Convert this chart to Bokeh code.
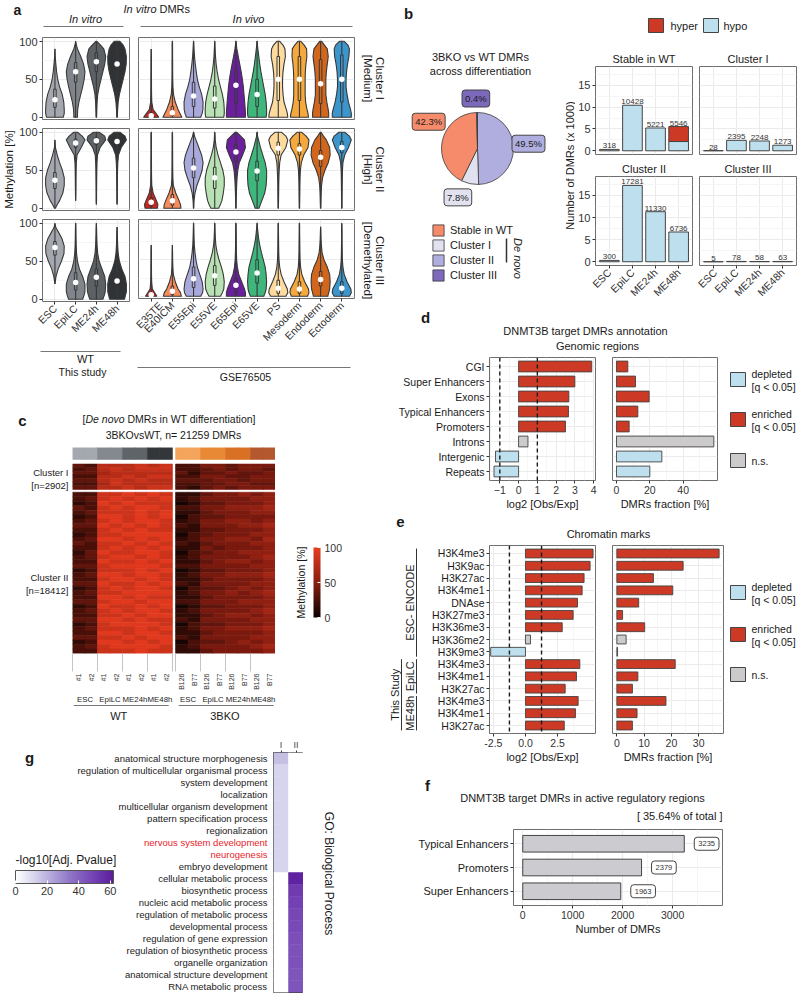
import math
from bokeh.plotting import figure
from bokeh.layouts import row, column
from bokeh.models import (Range1d, FixedTicker, Span, ColorBar, LinearColorMapper, Plot,
                          Legend, LegendItem, FactorRange, ColumnDataSource, Label)
from bokeh.models.glyphs import Text as TextGlyph
from bokeh.core.properties import value
from bokeh.embed import file_html
from bokeh.resources import INLINE

FONT = "Liberation Sans"
INK = "#1a1a1a"
AXC = "#333333"
BORDER = "#6e6e6e"
GRID = "#ebebeb"
GRID_MINOR = "#f5f5f5"
OUTL = "#444444"
VIOLIN_LINE = "#383838"
DEPL_C = "#BEDFEE"
ENR_C = "#CC3A26"
NS_C = "#CCCACA"
FA = {"frame_align": False} if "frame_align" in Plot.properties() else {}

# ============================ DATA ============================
# ---- panel a
VITRO = ["ESC", "EpiLC", "ME24h", "ME48h"]
VIVO = ["E35TE", "E40ICM", "E55Epi", "E55VE", "E65Epi", "E65VE", "PS",
        "Mesoderm", "Endoderm", "Ectoderm"]
VITRO_COLORS = ["#A4A8AE", "#80858B", "#5C6166", "#2F3336"]
VIVO_COLORS = ["#C9261F", "#F58A5A", "#A9AADB", "#B8E2B3", "#6B1F9E",
               "#3FB67C", "#FDDA9D", "#F5A83C", "#D3661D", "#3C95CB"]
CLUSTER_STRIPS = [("Cluster I", "[Medium]"), ("Cluster II", "[High]"),
                  ("Cluster III", "[Demethylated]")]
VIOLIN_LEVELS = [0, 5, 10, 20, 30, 40, 50, 60, 70, 80, 90, 95, 100]
VIOLIN_VITRO = [
    [[0.9, 1.0, 1.0, 0.95, 0.78, 0.5, 0.3, 0.18, 0.1, 0.03, 0, 0, 0],
     [0.2, 0.2, 0.22, 0.35, 0.55, 0.75, 0.92, 1.0, 0.85, 0.55, 0.2, 0.08, 0],
     [0.03, 0.04, 0.05, 0.08, 0.15, 0.3, 0.5, 0.7, 0.9, 1.0, 0.8, 0.45, 0.05],
     [0.03, 0.04, 0.06, 0.12, 0.25, 0.45, 0.65, 0.85, 0.98, 1.0, 0.85, 0.65, 0.3]],
    [[0.05, 0.25, 0.5, 0.85, 1.0, 1.0, 0.8, 0.5, 0.25, 0.05, 0, 0, 0],
     [0, 0, 0, 0.02, 0.03, 0.04, 0.05, 0.07, 0.15, 0.6, 1.0, 0.7, 0.2],
     [0, 0, 0.02, 0.02, 0.03, 0.04, 0.05, 0.07, 0.12, 0.4, 1.0, 0.9, 0.3],
     [0, 0, 0.02, 0.02, 0.03, 0.04, 0.05, 0.08, 0.15, 0.45, 1.0, 0.85, 0.3]],
    [[0, 0, 0, 0, 0.12, 0.35, 0.7, 0.97, 1.0, 0.75, 0.3, 0.08, 0],
     [0.75, 0.9, 1.0, 1.0, 0.75, 0.4, 0.2, 0.1, 0.06, 0.04, 0.03, 0.02, 0.01],
     [0.7, 0.85, 0.95, 1.0, 0.9, 0.6, 0.3, 0.15, 0.08, 0.05, 0.03, 0.02, 0],
     [0.8, 0.9, 1.0, 1.0, 0.85, 0.5, 0.25, 0.12, 0.07, 0.04, 0.02, 0, 0]],
]
VIOLIN_VIVO = [
    [[0.8, 0.5, 0.2, 0.06, 0.04, 0.03, 0.03, 0.02, 0.02, 0.015, 0, 0, 0],
     [1.0, 0.8, 0.6, 0.3, 0.12, 0.06, 0.04, 0.03, 0.03, 0.02, 0.02, 0.02, 0.01],
     [0.75, 0.9, 0.98, 1.0, 0.85, 0.6, 0.4, 0.28, 0.18, 0.1, 0.05, 0.03, 0.01],
     [0.95, 1.0, 1.0, 0.95, 0.8, 0.6, 0.4, 0.25, 0.15, 0.08, 0.04, 0.02, 0.01],
     [1.0, 1.0, 0.98, 0.92, 0.85, 0.78, 0.68, 0.55, 0.4, 0.25, 0.1, 0.05, 0.02],
     [0.95, 1.0, 1.0, 0.95, 0.85, 0.7, 0.55, 0.4, 0.28, 0.18, 0.08, 0.04, 0.02],
     [1.0, 0.95, 0.85, 0.6, 0.5, 0.45, 0.45, 0.5, 0.6, 0.75, 0.7, 0.5, 0.15],
     [0.95, 0.9, 0.8, 0.65, 0.6, 0.6, 0.6, 0.62, 0.68, 0.78, 0.75, 0.5, 0.15],
     [0.85, 0.85, 0.8, 0.65, 0.55, 0.55, 0.55, 0.6, 0.7, 0.8, 0.7, 0.4, 0.1],
     [1.0, 1.0, 0.92, 0.7, 0.55, 0.45, 0.45, 0.5, 0.6, 0.75, 0.8, 0.65, 0.25]],
    [[0.65, 0.7, 0.55, 0.2, 0.06, 0.04, 0.03, 0.03, 0.02, 0.02, 0.02, 0.02, 0.01],
     [0.9, 0.85, 0.7, 0.35, 0.1, 0.05, 0.04, 0.03, 0.03, 0.02, 0.02, 0.02, 0.01],
     [0.02, 0.03, 0.05, 0.15, 0.35, 0.65, 0.9, 1.0, 0.85, 0.55, 0.25, 0.1, 0.02],
     [0.4, 0.6, 0.75, 0.9, 1.0, 1.0, 0.85, 0.6, 0.35, 0.15, 0.05, 0.03, 0.01],
     [0.02, 0.02, 0.03, 0.05, 0.08, 0.12, 0.2, 0.35, 0.7, 1.0, 0.9, 0.5, 0.1],
     [0.2, 0.35, 0.5, 0.8, 0.95, 1.0, 1.0, 0.85, 0.6, 0.35, 0.15, 0.05, 0.02],
     [0.02, 0.02, 0.03, 0.04, 0.05, 0.07, 0.1, 0.15, 0.3, 0.8, 1.0, 0.8, 0.35],
     [0.02, 0.02, 0.03, 0.04, 0.05, 0.07, 0.1, 0.2, 0.45, 0.9, 1.0, 0.7, 0.25],
     [0.02, 0.03, 0.04, 0.06, 0.1, 0.2, 0.45, 0.8, 1.0, 0.95, 0.6, 0.3, 0.05],
     [0.02, 0.02, 0.02, 0.03, 0.04, 0.05, 0.07, 0.12, 0.3, 0.7, 1.0, 0.8, 0.3]],
    [[0.6, 0.35, 0.12, 0.05, 0.03, 0.03, 0.02, 0.02, 0, 0, 0, 0, 0],
     [0.95, 0.85, 0.6, 0.3, 0.1, 0.05, 0.03, 0.02, 0, 0, 0, 0, 0],
     [0.75, 0.95, 1.0, 0.9, 0.65, 0.4, 0.25, 0.15, 0.08, 0.05, 0.03, 0.02, 0.01],
     [0.6, 0.8, 0.95, 1.0, 0.9, 0.7, 0.45, 0.25, 0.12, 0.06, 0.03, 0.02, 0.01],
     [1.0, 1.0, 0.9, 0.6, 0.3, 0.15, 0.08, 0.05, 0.04, 0.03, 0.02, 0.02, 0.01],
     [0.7, 0.85, 0.95, 1.0, 0.95, 0.85, 0.65, 0.45, 0.28, 0.15, 0.07, 0.03, 0.01],
     [0.8, 1.0, 0.95, 0.6, 0.3, 0.15, 0.08, 0.05, 0.04, 0.03, 0.02, 0.02, 0.01],
     [0.85, 1.0, 0.95, 0.55, 0.25, 0.12, 0.07, 0.05, 0.04, 0.03, 0.02, 0.02, 0.01],
     [0.75, 0.85, 0.95, 1.0, 0.95, 0.7, 0.35, 0.15, 0.08, 0.04, 0.02, 0, 0],
     [0.8, 1.0, 0.95, 0.55, 0.25, 0.12, 0.06, 0.04, 0.03, 0.02, 0.02, 0.01, 0]],
]
# (median, q1, q3)
BOX_VITRO = [
    [(23, 13, 37), (60, 46, 72), (73, 60, 85), (70, 57, 83)],
    [(37, 26, 47), (86, 80, 91), (89, 84, 93), (88, 82, 92)],
    [(68, 58, 76), (22, 12, 35), (29, 17, 40), (24, 14, 36)],
]
BOX_VIVO = [
    [(2, 0, 6), (6, 2, 14), (28, 14, 46), (24, 12, 41), (42, 18, 63), (30, 14, 50),
     (50, 22, 80), (50, 22, 80), (44, 18, 76), (50, 20, 82)],
    [(8, 3, 14), (10, 4, 18), (53, 40, 66), (40, 26, 54), (74, 62, 84), (49, 36, 62),
     (79, 70, 87), (78, 70, 85), (67, 55, 76), (80, 73, 88)],
    [(2, 0, 5), (7, 2, 14), (24, 12, 40), (28, 15, 42), (15, 5, 24), (32, 18, 50),
     (11, 4, 22), (10, 4, 20), (23, 14, 34), (11, 4, 20)],
]

# ---- panel b
PIE_LABELS = ["Stable in WT", "Cluster I", "Cluster II", "Cluster III"]
PIE_PCT = [42.3, 7.8, 49.5, 0.4]
PIE_COLORS = ["#F58B6B", "#E1E1F0", "#AFAEDE", "#7C69BC"]
PIE_ORDER = [2, 1, 0, 3]          # clockwise from 12 o'clock
B_FACETS = ["Stable in WT", "Cluster I", "Cluster II", "Cluster III"]
B_STAGES = ["ESC", "EpiLC", "ME24h", "ME48h"]
B_HYPO = [[318, 10428, 5221, 2120], [28, 2395, 2248, 1273],
          [300, 17281, 11330, 6736], [5, 78, 58, 63]]
B_HYPER = [[0, 0, 0, 3426], [0, 0, 0, 0], [0, 0, 0, 0], [0, 0, 0, 0]]
HYPO_C = "#BEDFEE"
HYPER_C = "#CC3A26"

# ---- panel c
C_GROUPS = ["ESC", "EpiLC", "ME24h", "ME48h"]
C_COL_LABELS = ["#1", "#2"] * 4 + ["B126", "B77"] * 4
C_ANN_COLORS = ["#A4A8AF", "#848990", "#5F6469", "#33373A",
                "#F5A45B", "#E88A35", "#D87124", "#B4582F"]
C_CL1_N = 2902
C_CL2_N = 18412
C_CL1_ROWS = [
    "3277787822443444", "2378788822343443", "3367777731334334",
    "2277878822443344", "3378787733344344", "2268777722334433",
    "3377878821343444",
]
C_CL2_ROWS = [
    "2288989811344545", "2389898912444455", "1298988801334445",
    "3289899822445556", "2388898911344455", "1299898902334444",
    "2389899812445545", "3398989821444556", "2289898811334445",
    "1288999902344455", "2399898912445546", "3288989821344455",
    "2289898911434445", "1398899802344555", "2389989812444456",
    "2298898911345545", "3389999822444455", "1288898901334445",
    "2399899812445556", "2289989811344445", "3398898921444455",
    "1289899802334545", "2388999912445456", "2299898811344445",
    "3389989922444555", "1298898901334445", "2389899812444456",
    "2288989911345545", "3399898821444455", "1289999802334445",
    "2388898912445556", "2299899811344445", "3388989921444455",
    "1299898902334545", "2389999812444456", "2288898811344445",
]

# ---- panel d
D_REGIONS = ["CGI", "Super Enhancers", "Exons", "Typical Enhancers", "Promoters",
             "Introns", "Intergenic", "Repeats"]
D_LOG2 = [3.9, 3.0, 2.68, 2.66, 2.5, 0.5, -1.23, -1.31]
D_FRAC = [6.8, 11.4, 19.6, 12.8, 7.6, 58.4, 27.2, 20.0]
D_STATUS = ["enriched"] * 5 + ["n.s.", "depleted", "depleted"]

# ---- panel e
E_MARKS = ["H3K4me3", "H3K9ac", "H3K27ac", "H3K4me1", "DNAse", "H3K27me3", "H3K36me3",
           "H3K36me2", "H3K9me3", "H3K4me3", "H3K4me1", "H3K27ac", "H3K4me3",
           "H3K4me1", "H3K27ac"]
E_LOG2 = [5.26, 5.03, 4.56, 4.41, 4.05, 3.71, 2.86, 0.39, -2.71, 4.23, 3.97, 3.09,
          4.1, 3.89, 3.02]
E_FRAC = [37.5, 24.3, 13.4, 20.5, 8.0, 2.1, 10.2, 3.4, 0.25, 21.4, 7.7, 5.7,
          18.0, 7.4, 5.7]
E_STATUS = ["enriched"] * 7 + ["n.s.", "depleted"] + ["enriched"] * 6
E_GROUPS = [("ESC- ENCODE", 0, 8), ("EpiLC", 9, 11), ("ME48h", 12, 14)]
E_STUDY = ("This Study", 9, 14)

# ---- panel f
F_REGIONS = ["Typical Enhancers", "Promoters", "Super Enhancers"]
F_COUNTS = [3235, 2379, 1963]
F_SHARE = "35.64%"

# ---- panel g
GO_TERMS = ["anatomical structure morphogenesis",
            "regulation of multicellular organismal process",
            "system development", "localization",
            "multicellular organism development", "pattern specification process",
            "regionalization", "nervous system development", "neurogenesis",
            "embryo development", "cellular metabolic process", "biosynthetic process",
            "nucleic acid metabolic process", "regulation of metabolic process",
            "developmental process", "regulation of gene expression",
            "regulation of biosynthetic process", "organelle organization",
            "anatomical structure development", "RNA metabolic process"]
GO_HIGHLIGHT = ["nervous system development", "neurogenesis"]
GO_CLUSTERS = ["I", "II"]
GO_I = [17, 12, 12, 12, 12, 12, 12, 12, 12, 12, 0, 0, 0, 0, 0, 0, 0, 0, 0, 0]
GO_II = [0, 0, 0, 0, 0, 0, 0, 0, 0, 0, 60, 52, 50, 48, 47, 46, 45, 45, 44, 44]

# ============================ HELPERS ============================
DECO_H = {}


def hex2rgb(h):
    h = h.lstrip("#")
    return tuple(int(h[i:i + 2], 16) for i in (0, 2, 4))


def ramp(stops, n=256):
    out = []
    for i in range(n):
        t = i / (n - 1)
        for (p0, c0), (p1, c1) in zip(stops[:-1], stops[1:]):
            if p0 <= t <= p1:
                f = 0 if p1 == p0 else (t - p0) / (p1 - p0)
                a, b = hex2rgb(c0), hex2rgb(c1)
                out.append("#%02x%02x%02x" % tuple(int(round(a[j] + (b[j] - a[j]) * f)) for j in range(3)))
                break
    return out


def deco(w, h):
    p = figure(width=w, height=h, x_range=Range1d(0, w), y_range=Range1d(0, h),
               x_axis_type=None, y_axis_type=None, toolbar_location=None,
               output_backend="svg", min_border=0, title=None, **FA)
    p.outline_line_color = None
    p.background_fill_color = "white"
    p.border_fill_color = "white"
    DECO_H[p.id] = h
    return p


def dtext(p, x, y, s, size=11, align="center", baseline="middle", angle=0.0,
          style="normal", color=INK):
    h = DECO_H[p.id]
    p.text(x=[x], y=[h - y], text=[s], text_font=value(FONT), text_font_size=f"{size}px",
           text_align=align, text_baseline=baseline, angle=angle,
           text_font_style=style, text_color=color)


def dline(p, x0, y0, x1, y1, color="#777777", width=1.0):
    h = DECO_H[p.id]
    p.line([x0, x1], [h - y0, h - y1], line_color=color, line_width=width)


def dbox(p, x0, y0, x1, y1, fill):
    h = DECO_H[p.id]
    p.quad(left=[x0], right=[x1], top=[h - y0], bottom=[h - y1], fill_color=fill,
           line_color=OUTL, line_width=1)


def boxed_kw(fill, line="#444444", pad=3, radius=3):
    props = TextGlyph.properties()
    kw = {}
    if "background_fill_color" in props:
        kw["background_fill_color"] = fill
    if "border_line_color" in props:
        kw["border_line_color"] = line
        kw["border_line_width"] = 1
    if "padding" in props:
        kw["padding"] = pad
    if "border_radius" in props:
        kw["border_radius"] = radius
    return kw


def dfig(w, h, xr, yr, bl, br, bt, bb, xloc="below", yloc="left", title=None, tick="10.5px"):
    p = figure(width=w, height=h, x_range=xr, y_range=yr, toolbar_location=None,
               output_backend="svg", min_border_left=bl, min_border_right=br,
               min_border_top=bt, min_border_bottom=bb, x_axis_location=xloc,
               y_axis_location=yloc, title=title, **FA)
    p.background_fill_color = "white"
    p.border_fill_color = "white"
    p.outline_line_color = BORDER
    p.outline_line_width = 1
    for ax in p.axis:
        ax.axis_line_color = None
        ax.major_tick_line_color = AXC
        ax.major_tick_out = 3
        ax.major_tick_in = 0
        ax.minor_tick_line_color = None
        ax.major_label_text_font = FONT
        ax.major_label_text_font_size = tick
        ax.major_label_text_color = AXC
        ax.major_label_standoff = 2
        ax.axis_label_text_font = FONT
        ax.axis_label_text_font_size = "11px"
        ax.axis_label_text_font_style = "normal"
        ax.axis_label_text_color = INK
        ax.axis_label_standoff = 1
    for g in p.grid:
        g.grid_line_color = GRID
        g.grid_line_width = 1
    if title is not None:
        p.title.align = "center"
        p.title.text_font = FONT
        p.title.text_font_size = "11px"
        p.title.text_font_style = "normal"
        p.title.text_color = INK
        p.title.standoff = 3
    return p


# ============================ PANEL A ============================
A_FRAME_H = 82
A_ROWS = [(0, 4), (5, 4), (5, 49)]
HW = 0.45


def violin_fig(names, profs, boxes, colors, w, bl, br, bt, bb, show_y, show_x):
    n = len(names)
    p = dfig(w, bt + A_FRAME_H + bb, Range1d(0.4, n + 0.6), Range1d(-3, 105), bl, br, bt, bb,
             xloc="below" if show_x else None, yloc="left" if show_y else None, tick="11px")
    p.ygrid.ticker = FixedTicker(ticks=[0, 50, 100], minor_ticks=[25, 75])
    p.ygrid.minor_grid_line_color = GRID_MINOR
    p.xgrid.ticker = FixedTicker(ticks=list(range(1, n + 1)))
    if show_y:
        p.yaxis.ticker = FixedTicker(ticks=[0, 50, 100])
    if show_x:
        p.xaxis.ticker = FixedTicker(ticks=list(range(1, n + 1)))
        p.xaxis.major_label_overrides = {i + 1: nm for i, nm in enumerate(names)}
        p.xaxis.major_label_orientation = math.pi / 4
        p.xaxis.major_label_text_font_size = "10.5px"
    xs, ys, lo, hi = [], [], [], []
    for i, prof in enumerate(profs):
        c = i + 1
        nz = [k for k, v in enumerate(prof) if v > 0]
        s = max(nz[0] - 1, 0)
        e = min(nz[-1] + 1, len(prof) - 1)
        lv = VIOLIN_LEVELS[s:e + 1]
        wv = prof[s:e + 1]
        xs.append([c - HW * v for v in wv] + [c + HW * v for v in wv][::-1])
        ys.append(lv + lv[::-1])
        lo.append(lv[0])
        hi.append(lv[-1])
    p.patches(xs, ys, fill_color=colors, line_color=VIOLIN_LINE, line_width=1.1)
    cx = list(range(1, n + 1))
    p.segment(x0=cx, y0=lo, x1=cx, y1=hi, line_color=VIOLIN_LINE, line_width=1.1)
    p.quad(left=[c - 0.06 for c in cx], right=[c + 0.06 for c in cx],
           bottom=[b[1] for b in boxes], top=[b[2] for b in boxes],
           fill_color=colors, line_color=VIOLIN_LINE, line_width=1)
    p.scatter(cx, [b[0] for b in boxes], size=5.5, fill_color="white", line_color=None)
    return p


hA = deco(388, 37)
dtext(hA, 17, 9, "a", 14, style="bold")
dtext(hA, 156, 8, "In vitro", 11, align="right", style="italic")
dtext(hA, 159, 8, "DMRs", 11, align="left")
dtext(hA, 85, 18, "In vitro", 11, style="italic")
dtext(hA, 248, 18, "In vivo", 11, style="italic")
dline(hA, 43, 26, 123, 26)
dline(hA, 140, 26, 352, 26)

col1 = [violin_fig(VITRO, VIOLIN_VITRO[r], BOX_VITRO[r], VITRO_COLORS, 117, 24, 4, bt, bb,
                   True, r == 2) for r, (bt, bb) in enumerate(A_ROWS)]
col2 = [violin_fig(VIVO, VIOLIN_VIVO[r], BOX_VIVO[r], VIVO_COLORS, 223, 5, 2, bt, bb,
                   False, r == 2) for r, (bt, bb) in enumerate(A_ROWS)]
row_h = [bt + A_FRAME_H + bb for bt, bb in A_ROWS]
grid_h = sum(row_h)
centers = []
acc = 0
for (bt, bb), hh in zip(A_ROWS, row_h):
    centers.append(acc + bt + A_FRAME_H / 2)
    acc += hh
ylabA = deco(16, grid_h)
dtext(ylabA, 8, centers[1], "Methylation [%]", 11.5, angle=math.pi / 2)
stripA = deco(32, grid_h)
for (l1, l2), cyy in zip(CLUSTER_STRIPS, centers):
    dtext(stripA, 23, cyy, l1, 11.5, angle=-math.pi / 2)
    dtext(stripA, 11, cyy, l2, 11.5, angle=-math.pi / 2)
fA = deco(388, 385 - 37 - grid_h)
dline(fA, 40, 1, 120, 1)
dtext(fA, 85, 8, "WT", 11)
dtext(fA, 82, 21, "This study", 10.5)
dline(fA, 137, 17, 350, 17)
dtext(fA, 245, 26, "GSE76505", 10.5)
blockA = column(hA, row(ylabA, column(*col1), column(*col2), stripA), fA)

# ============================ PANEL C ============================
C_FRAME_W, C_FRAME_H = 203, 224
ANN_PX, ANN_GAP_PX, CL_GAP_PX = 13, 5, 3
GAP = 0.25
u = (C_CL1_N + C_CL2_N) / (C_FRAME_H - ANN_PX - ANN_GAP_PX - CL_GAP_PX)
col_x = [i + 0.5 + (GAP if i >= 8 else 0) for i in range(16)]
XMAX = 16 + GAP
heat_pal = ramp([(0, "#0b0302"), (0.5, "#861d10"), (1.0, "#e93c20")])
heat_map = LinearColorMapper(palette=heat_pal, low=0, high=100)

cx, cy, chh, cv = [], [], [], []
h2 = C_CL2_N / len(C_CL2_ROWS)
for j, r in enumerate(C_CL2_ROWS):
    for i, d in enumerate(r):
        cx.append(col_x[i]); cy.append(C_CL2_N - (j + 0.5) * h2); chh.append(h2)
        cv.append(int(d) * 10 + 5)
base1 = C_CL2_N + CL_GAP_PX * u
h1 = C_CL1_N / len(C_CL1_ROWS)
for j, r in enumerate(C_CL1_ROWS):
    for i, d in enumerate(r):
        cx.append(col_x[i]); cy.append(base1 + C_CL1_N - (j + 0.5) * h1); chh.append(h1)
        cv.append(int(d) * 10 + 5)
ann_base = base1 + C_CL1_N + ANN_GAP_PX * u

heat = dfig(C_FRAME_W, C_FRAME_H + 21, Range1d(0, XMAX), Range1d(0, C_FRAME_H * u),
            0, 0, 0, 21, xloc="below", yloc=None)
heat.outline_line_color = None
heat.grid.visible = False
src = ColumnDataSource(dict(x=cx, y=cy, h=chh, v=cv))
heat.rect(x="x", y="y", width=1.0, height="h", source=src,
          fill_color={"field": "v", "transform": heat_map},
          line_color={"field": "v", "transform": heat_map}, line_width=0.6)
ann_cols = [C_ANN_COLORS[i // 2] for i in range(16)]
heat.rect(x=col_x, y=[ann_base + ANN_PX * u / 2] * 16, width=1.0, height=ANN_PX * u,
          fill_color=ann_cols, line_color=ann_cols, line_width=0.6)
bounds = [0, 2, 4, 6, 8] + [8 + GAP + k for k in (0, 2, 4, 6, 8)]
heat.xaxis.ticker = FixedTicker(ticks=col_x, minor_ticks=bounds)
heat.xaxis.major_label_overrides = {x: lab for x, lab in zip(col_x, C_COL_LABELS)}
heat.xaxis.major_label_orientation = math.pi / 2
heat.xaxis.major_label_text_font_size = "7px"
heat.xaxis.major_tick_out = 0
heat.xaxis.major_label_standoff = 2
heat.xaxis.minor_tick_line_color = "#c4c4c4"
heat.xaxis.minor_tick_out = 18
heat.xaxis.minor_tick_in = 0

pxu = C_FRAME_W / XMAX
HX0 = 72
hC = deco(388, 62)
dtext(hC, 22, 35, "c", 15, style="bold")
dtext(hC, 82, 33, "[", 10.5, align="left")
dtext(hC, 85, 33, "De novo", 10.5, align="left", style="italic")
dtext(hC, 127, 33, "DMRs in WT differentiation]", 10.5, align="left")
dtext(hC, 173, 49, "3BKOvsWT, n= %d DMRs" % 21259, 10.5)


def heat_py(yv):
    return C_FRAME_H - yv / u


leftC = deco(HX0, C_FRAME_H + 21)
c1_mid = heat_py(base1 + C_CL1_N / 2)
c2_mid = heat_py(C_CL2_N / 2)
dtext(leftC, 68, c1_mid - 6.5, "Cluster I", 9.5, align="right")
dtext(leftC, 68, c1_mid + 6.5, "[n=%d]" % C_CL1_N, 9.5, align="right")
dtext(leftC, 68, c2_mid - 6.5, "Cluster II", 9.5, align="right")
dtext(leftC, 68, c2_mid + 6.5, "[n=%d]" % C_CL2_N, 9.5, align="right")

rightC = deco(388 - HX0 - C_FRAME_W, C_FRAME_H + 21)
dtext(rightC, 25, 135, "Methylation [%]", 10.5, angle=math.pi / 2)
cbC = ColorBar(color_mapper=heat_map, orientation="vertical", location=(38, 75),
               width=7, height=70, padding=0, margin=0,
               ticker=FixedTicker(ticks=[0, 50, 100]), label_standoff=4,
               major_label_text_font=FONT, major_label_text_font_size="10.5px",
               major_label_text_color=AXC, major_tick_line_color="white",
               major_tick_in=3, bar_line_color=None, background_fill_alpha=0)
rightC.add_layout(cbC, "center")

fC = deco(388, 30)
for gi, g in enumerate(C_GROUPS):
    dtext(fC, HX0 + (2 * gi + 1) * pxu, 7, g, 7.8)
    dtext(fC, HX0 + (8 + GAP + 2 * gi + 1) * pxu, 7, g, 7.8)
dline(fC, HX0 + 0.1 * pxu, 13, HX0 + 7.7 * pxu, 13)
dline(fC, HX0 + 8.5 * pxu, 13, HX0 + 16.1 * pxu, 13)
dtext(fC, HX0 + 3.7 * pxu, 23, "WT", 11)
dtext(fC, HX0 + 12.2 * pxu, 23, "3BKO", 11)
blockC = column(hC, row(leftC, heat, rightC), fC)

# ============================ PANEL G ============================
G_H = 271
G_TOP, G_BOT = 30, 1
go_range = FactorRange(factors=GO_TERMS[::-1])
go_pal = ramp([(0, "#ffffff"), (0.2, "#d4d3ec"), (0.55, "#9077c8"), (0.8, "#7442b4"),
               (1.0, "#5b1c9c")])
go_map = LinearColorMapper(palette=go_pal, low=0, high=62)

labG = figure(width=270, height=G_H, x_range=Range1d(0, 1), y_range=go_range,
              toolbar_location=None, output_backend="svg", min_border_left=0,
              min_border_right=0, min_border_top=G_TOP, min_border_bottom=G_BOT,
              x_axis_location=None, y_axis_location=None, title=None, **FA)
labG.outline_line_color = None
labG.grid.visible = False
labG.text(x=[1] * len(GO_TERMS), y=GO_TERMS, text=GO_TERMS, x_offset=-3,
          text_align="right", text_baseline="middle", text_font=value(FONT),
          text_font_size="9.5px",
          text_color=["#e8242a" if t in GO_HIGHLIGHT else INK for t in GO_TERMS])
labG.add_layout(Label(x=29, y=235, x_units="screen", y_units="screen", text="g",
                      text_font=FONT, text_font_size="15px", text_font_style="bold",
                      text_align="center", text_baseline="middle", text_color=INK))
cbG = ColorBar(color_mapper=go_map, orientation="horizontal", location=(15, 95),
               width=98, height=13, padding=0, margin=0,
               title="-log10[Adj. Pvalue]", title_text_font=FONT,
               title_text_font_size="12px", title_text_font_style="normal",
               title_text_color=INK, title_standoff=7,
               ticker=FixedTicker(ticks=[0, 20, 40, 60]), label_standoff=3,
               major_label_text_font=FONT, major_label_text_font_size="11px",
               major_label_text_color=AXC, major_tick_line_color="white",
               major_tick_in=3, bar_line_color="#555555", background_fill_alpha=0)
labG.add_layout(cbG, "center")

heatG = figure(width=33, height=G_H, x_range=FactorRange(factors=GO_CLUSTERS),
               y_range=go_range, toolbar_location=None, output_backend="svg",
               min_border_left=3, min_border_right=0, min_border_top=G_TOP,
               min_border_bottom=G_BOT, x_axis_location="above", y_axis_location=None,
               title=None, **FA)
heatG.outline_line_color = "#333333"
heatG.grid.visible = False
gsrc = ColumnDataSource(dict(x=["I"] * len(GO_TERMS) + ["II"] * len(GO_TERMS),
                             y=GO_TERMS + GO_TERMS, v=GO_I + GO_II))
heatG.rect(x="x", y="y", width=1, height=1, source=gsrc,
           fill_color={"field": "v", "transform": go_map},
           line_color={"field": "v", "transform": go_map}, line_width=0.5)
for ax in heatG.axis:
    ax.axis_line_color = None
    ax.major_tick_out = 2
    ax.major_tick_in = 0
    ax.major_tick_line_color = AXC
    ax.major_label_text_font = FONT
    ax.major_label_text_font_size = "9px"
    ax.major_label_standoff = 1
goDeco = deco(85, G_H)
dtext(goDeco, 25, 151, "GO: Biological Process", 12, angle=-math.pi / 2)
blockG = row(labG, heatG, goDeco)

left_col = column(blockA, blockC, blockG)

# ============================ PANEL B ============================
pie = figure(width=177, height=305, x_range=Range1d(-89, 88), y_range=Range1d(-157, 148),
             x_axis_type=None, y_axis_type=None, toolbar_location=None,
             output_backend="svg", min_border=0, title=None, **FA)
pie.outline_line_color = None
PIE_R = 36
starts, ends, cum = [], [], 0.0
for k in PIE_ORDER:
    starts.append(math.pi / 2 - 2 * math.pi * cum / 100)
    cum += PIE_PCT[k]
    ends.append(math.pi / 2 - 2 * math.pi * cum / 100)
wsrc = ColumnDataSource(dict(x=[0] * 4, y=[0] * 4, s=starts, e=ends,
                             c=[PIE_COLORS[k] for k in PIE_ORDER]))
wr = pie.wedge(x="x", y="y", radius=PIE_R, start_angle="s", end_angle="e",
               direction="clock", fill_color="c", line_color="#3a3a3a",
               line_width=0.8, source=wsrc)
PIE_LABEL_R = 50
PIE_NUDGE = [(0, 16), (-9, 0), (1, 4), (-1, 0)]
for k in range(4):
    idx = PIE_ORDER.index(k)
    m = (starts[idx] + ends[idx]) / 2
    lx = PIE_LABEL_R * math.cos(m) + PIE_NUDGE[k][0]
    ly = PIE_LABEL_R * math.sin(m) + PIE_NUDGE[k][1]
    pie.text(x=[lx], y=[ly], text=["%s%%" % PIE_PCT[k]], text_align="center",
             text_baseline="middle", text_font=value(FONT), text_font_size="9.5px",
             text_color=INK, **boxed_kw(PIE_COLORS[k]))
pie.text(x=[-69], y=[135], text=["b"], text_font=value(FONT), text_font_size="15px",
         text_font_style="bold", text_align="center", text_baseline="middle",
         text_color=INK)
pie.text(x=[3, 3], y=[92, 78], text=["3BKO vs WT DMRs", "across differentiation"],
         text_font=value(FONT), text_font_size="11px", text_align="center",
         text_baseline="middle", text_color=INK)
leg = Legend(items=[LegendItem(label=PIE_LABELS[k], renderers=[wr], index=PIE_ORDER.index(k))
                    for k in range(4)],
             location=(43, 23), padding=0, margin=0, spacing=1, glyph_width=14,
             glyph_height=14, label_height=14, label_standoff=5,
             label_text_font=FONT, label_text_font_size="11px",
             label_text_color=INK, border_line_color=None, background_fill_alpha=0)
pie.add_layout(leg, "center")
pie.text(x=[40], y=[-110], text=["De novo"], angle=-math.pi / 2, text_font=value(FONT),
         text_font_size="11px", text_font_style="italic", text_align="center",
         text_baseline="middle", text_color=INK)
pie.line([29, 29], [-90, -114], line_color="#333333", line_width=1.5)


def bars_fig(k, w, bl, br, bt, bb, frame_h, show_y, show_x):
    p = dfig(w, bt + frame_h + bb, Range1d(0.4, 4.6), Range1d(-0.85, 19.3), bl, br, bt, bb,
             xloc="below" if show_x else None, yloc="left" if show_y else None,
             title=B_FACETS[k], tick="11px")
    p.ygrid.ticker = FixedTicker(ticks=[0, 5, 10, 15], minor_ticks=[2.5, 7.5, 12.5, 17.5])
    p.ygrid.minor_grid_line_color = GRID_MINOR
    p.xgrid.ticker = FixedTicker(ticks=[1, 2, 3, 4])
    if show_y:
        p.yaxis.ticker = FixedTicker(ticks=[0, 5, 10, 15])
    if show_x:
        p.xaxis.ticker = FixedTicker(ticks=[1, 2, 3, 4])
        p.xaxis.major_label_overrides = {i + 1: s for i, s in enumerate(B_STAGES)}
        p.xaxis.major_label_orientation = math.pi / 4
        p.xaxis.major_label_text_font_size = "10.5px"
    x = [1, 2, 3, 4]
    hypo = [v / 1000 for v in B_HYPO[k]]
    tot = [(a + b) / 1000 for a, b in zip(B_HYPO[k], B_HYPER[k])]
    p.vbar(x=x, width=0.85, bottom=0, top=hypo, fill_color=HYPO_C, line_color=OUTL,
           line_width=1)
    hx = [xx for xx, hv in zip(x, B_HYPER[k]) if hv > 0]
    if hx:
        p.vbar(x=hx, width=0.85, bottom=[hypo[i - 1] for i in hx],
               top=[tot[i - 1] for i in hx], fill_color=HYPER_C, line_color=OUTL,
               line_width=1)
    p.text(x=x, y=tot, text=[str(a + b) for a, b in zip(B_HYPO[k], B_HYPER[k])],
           text_align="center", text_baseline="bottom", y_offset=-1,
           text_font=value(FONT), text_font_size="8px", text_color=AXC)
    return p


B_ROWS = [(21, 4, 88), (18, 40, 89)]
bcol1 = [bars_fig(0, 120, 20, 3, *B_ROWS[0], True, False),
         bars_fig(2, 120, 20, 3, *B_ROWS[1], True, True)]
bcol2 = [bars_fig(1, 103, 4, 2, *B_ROWS[0], False, False),
         bars_fig(3, 103, 4, 2, *B_ROWS[1], False, True)]
ylabB = deco(10, sum(r[0] + r[1] + r[2] for r in B_ROWS))
dtext(ylabB, 4, 120, "Number of DMRs (x 1000)", 11, angle=math.pi / 2)
legB = deco(233, 45)
dbox(legB, 83, 18, 98, 32, HYPER_C)
dtext(legB, 105, 25, "hyper", 11, align="left")
dbox(legB, 138, 18, 153, 32, HYPO_C)
dtext(legB, 158, 25, "hypo", 11, align="left")
blockB = row(pie, column(legB, row(ylabB, column(*bcol1), column(*bcol2))))

# ============================ PANELS D / E ============================
STATUS_COLORS = {"depleted": DEPL_C, "enriched": ENR_C, "n.s.": NS_C}


def enrich_fig(names, vals, status, w, h, xr, yr, bl, br, bt, bb, show_labels,
               xticks, xminor, xlabel, overrides=None, spans=()):
    n = len(names)
    yv = [n - i for i in range(n)]
    p = dfig(w, h, xr, yr, bl, br, bt, bb, yloc="left" if show_labels else None)
    p.hbar(y=yv, left=0, right=vals, height=0.72,
           fill_color=[STATUS_COLORS[s] for s in status], line_color=OUTL, line_width=0.9)
    if show_labels:
        p.yaxis.ticker = FixedTicker(ticks=yv)
        p.yaxis.major_label_overrides = {y: nm for y, nm in zip(yv, names)}
        p.yaxis.major_label_text_font_size = "10.5px"
        p.yaxis.major_label_text_color = INK
    p.xaxis.ticker = FixedTicker(ticks=xticks)
    if overrides:
        p.xaxis.major_label_overrides = overrides
    p.xaxis.axis_label = xlabel
    p.xgrid.ticker = FixedTicker(ticks=xticks, minor_ticks=xminor)
    p.xgrid.minor_grid_line_color = GRID_MINOR
    p.ygrid.ticker = FixedTicker(ticks=yv)
    for s in spans:
        p.add_layout(Span(location=s, dimension="height", line_color=INK,
                          line_dash="4 3", line_width=1.4))
    return p


def legend_deco(p, x0, rows):
    for (y0, lines) in rows:
        fill = STATUS_COLORS[lines[0]]
        dbox(p, x0, y0, x0 + 15, y0 + 14, fill)
        if len(lines) == 2:
            dtext(p, x0 + 21, y0 + 1, lines[0], 10.5, align="left")
            dtext(p, x0 + 21, y0 + 14, lines[1], 10.5, align="left")
        else:
            dtext(p, x0 + 21, y0 + 7, lines[0], 10.5, align="left")


hD = deco(410, 50)
dtext(hD, 37, 12, "d", 15, style="bold")
dtext(hD, 197, 25, "DNMT3B target DMRs annotation", 11)
dtext(hD, 209, 40, "Genomic regions", 11)
dLeft = enrich_fig(D_REGIONS, D_LOG2, D_STATUS, 215, 157, Range1d(-1.55, 4.1),
                   Range1d(0.4, 8.6), 101, 8, 2, 31, True, [-1, 0, 1, 2, 3, 4],
                   [-1.5, -0.5, 0.5, 1.5, 2.5, 3.5], "log2 [Obs/Exp]", spans=(-1, 1))
dRight = enrich_fig(D_REGIONS, D_FRAC, D_STATUS, 119, 157, Range1d(-2.4, 60.6),
                    Range1d(0.4, 8.6), 9, 5, 2, 31, False, [0, 20, 40], [10, 30, 50],
                    "DMRs fraction [%]")
dLeg = deco(76, 157)
legend_deco(dLeg, 8, [(17, ("depleted", "[q < 0.05]")), (57, ("enriched", "[q < 0.05]")),
                      (98, ("n.s.",))])
blockD = column(hD, row(dLeft, dRight, dLeg))

hE = deco(410, 31)
dtext(hE, 12, 9, "e", 15, style="bold")
dtext(hE, 220, 21, "Chromatin marks", 11)
E_FRAME_H = 188
E_YR = (0.35, 15.65)
eLeft = enrich_fig(E_MARKS, E_LOG2, E_STATUS, 183, 227, Range1d(-2.8, 5.45),
                   Range1d(*E_YR), 69, 8, 2, 37, True, [-2.5, 0, 2.5],
                   [-1.25, 1.25, 3.75], "log2 [Obs/Exp]",
                   overrides={-2.5: "-2.5", 0: "0.0", 2.5: "2.5"}, spans=(-1.25, 1.25))
eRight = enrich_fig(E_MARKS, E_FRAC, E_STATUS, 125, 227, Range1d(-1.6, 39.1),
                    Range1d(*E_YR), 9, 5, 2, 37, False, [0, 10, 20, 30],
                    [5, 15, 25, 35], "DMRs fraction [%]")
eGroup = deco(32, 227)
nE = len(E_MARKS)


def e_py(yval):
    return 2 + (E_YR[1] - yval) * E_FRAME_H / (E_YR[1] - E_YR[0])


for name, r0, r1 in E_GROUPS:
    yt, yb = e_py(nE - r0 + 0.4), e_py(nE - r1 - 0.4)
    dline(eGroup, 28, yt, 28, yb, color="#333333", width=1)
    dtext(eGroup, 21, (yt + yb) / 2, name, 11, angle=math.pi / 2)
name, r0, r1 = E_STUDY
yt, yb = e_py(nE - r0 + 0.4), e_py(nE - r1 - 0.4)
dline(eGroup, 13, yt, 13, yb, color="#333333", width=1)
dtext(eGroup, 6, (yt + yb) / 2, name, 11, angle=math.pi / 2)
eLeg = deco(70, 227)
legend_deco(eLeg, 2, [(42, ("depleted", "[q < 0.05]")), (84, ("enriched", "[q < 0.05]")),
                      (124, ("n.s.",))])
blockE = column(hE, row(eGroup, eLeft, eRight, eLeg))

# ============================ PANEL F ============================
hF = deco(410, 57)
dtext(hF, 39, 15, "f", 15, style="bold")
dtext(hF, 194, 27, "DNMT3B target DMRs in active regulatory regions", 11)
dtext(hF, 334, 45, "[ %s of total ]" % F_SHARE, 11, align="right")
fFig = dfig(410, 110, Range1d(-185, 4000), Range1d(0.4, 3.6), 125, 76, 2, 31)
fy = [3, 2, 1]
fFig.hbar(y=fy, left=0, right=F_COUNTS, height=0.7, fill_color="#CBCBD0",
          line_color=OUTL, line_width=1)
for yy, cnt in zip(fy, F_COUNTS):
    fFig.text(x=[cnt], y=[yy], text=[str(cnt)], x_offset=10, text_align="left",
              text_baseline="middle", text_font=value(FONT), text_font_size="7.5px",
              text_color=AXC, **boxed_kw("white", pad=4))
fFig.yaxis.ticker = FixedTicker(ticks=fy)
fFig.yaxis.major_label_overrides = {y: n for y, n in zip(fy, F_REGIONS)}
fFig.yaxis.major_label_text_font_size = "11px"
fFig.yaxis.major_label_text_color = INK
fFig.xaxis.ticker = FixedTicker(ticks=[0, 1000, 2000, 3000])
fFig.xaxis.axis_label = "Number of DMRs"
fFig.xgrid.ticker = FixedTicker(ticks=[0, 1000, 2000, 3000], minor_ticks=[500, 1500, 2500, 3500])
fFig.xgrid.minor_grid_line_color = GRID_MINOR
fFig.ygrid.ticker = FixedTicker(ticks=fy)
blockF = column(hF, fFig)

right_col = column(blockB, blockD, blockE, blockF)
layout = row(left_col, right_col)
open("out.html", "w").write(file_html(layout, INLINE))
